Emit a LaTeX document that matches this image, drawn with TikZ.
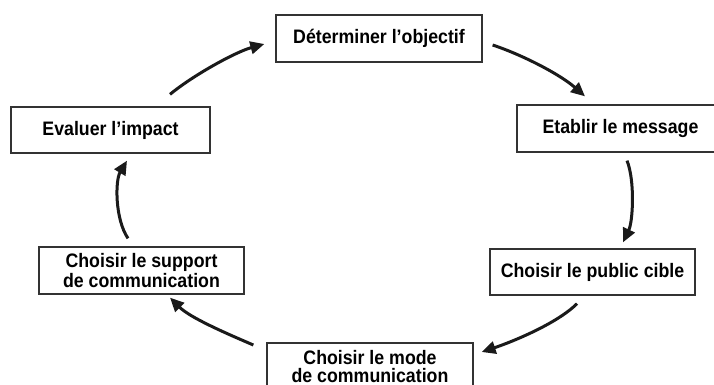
\documentclass[tikz,border=0pt]{standalone}
\usepackage{fontspec}
\setmainfont{Liberation Sans}
\newfontfamily\narrowsans[FakeStretch=0.91]{Liberation Sans}
\usetikzlibrary{arrows.meta,calc}
\definecolor{boxline}{HTML}{333333}
\definecolor{arrowcol}{HTML}{1A1A1A}
\begin{document}
\begin{tikzpicture}[x=1pt,y=-1pt,
  stepbox/.style={draw=boxline,line width=1.3pt,fill=white,inner sep=0pt,
    minimum height=47pt,align=center,
    font=\narrowsans\fontsize{19.5}{17.5}\selectfont\bfseries},
  cyc/.style={draw=arrowcol,line width=3pt,
    -{Triangle[length=14pt,width=12.5pt]}}]
\useasboundingbox[fill=white] (0,0) rectangle (714,385);
\node[stepbox,minimum width=206pt] (det)  at (379,38.5)   {Déterminer l’objectif};
\node[stepbox,minimum width=199pt,minimum height=46pt] (eval) at (110.5,130) {Evaluer l’impact};
\node[stepbox,minimum width=207pt] (etab) at (620.5,128.5) {Etablir le message};
\node[stepbox,minimum width=205pt,minimum height=46pt] (pub)  at (592.5,272) {Choisir le public cible};
\node[stepbox,minimum width=206pt] (mode) at (370,366.5)  {Choisir le mode\\de communication};
\node[stepbox,minimum width=205pt] (supp) at (141.5,270.5) {Choisir le support\\de communication};

\draw[cyc] ($(eval.north)+(59.5,-12)$) .. controls +(23,-19) and +(-29,8) .. ($(det.west)+(-11,5.5)$);
\draw[cyc] ($(det.east)+(10,6.5)$) .. controls +(30,10) and +(-25,-22) .. ($(etab.north)+(-35.5,-8)$);
\draw[cyc] ($(etab.south)+(6.5,8)$) .. controls +(8,20) and +(10,-21) .. ($(pub.north)+(30.5,-6)$);
\draw[cyc] ($(pub.south)+(-15.5,8)$) .. controls +(-20,20) and +(30,-10) .. ($(mode.east)+(8,-14.5)$);
\draw[cyc] ($(mode.west)+(-13,-21.5)$) .. controls +(-28,-12) and +(20,20) .. ($(supp.south)+(28.5,3)$);
\draw[cyc] ($(supp.north)+(-13.5,-8)$) .. controls +(-13,-19) and +(-12,20) .. ($(eval.south)+(16.5,7)$);
\end{tikzpicture}
\end{document}
